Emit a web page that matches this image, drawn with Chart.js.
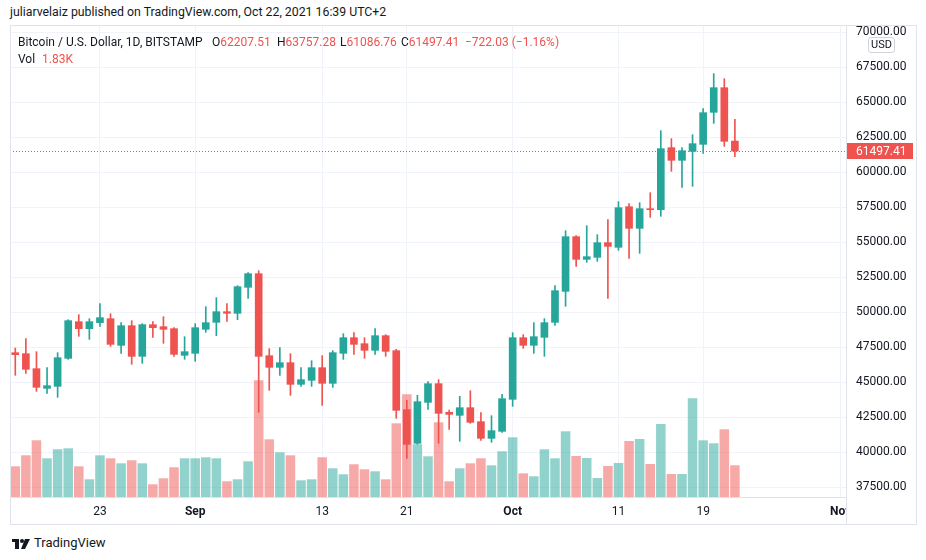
<!DOCTYPE html>
<html>
<head>
<meta charset="utf-8">
<script src="https://cdn.jsdelivr.net/npm/chart.js@4.4.0/dist/chart.umd.min.js"></script>
<style>
body { margin: 0; background: #fff; font-family: Roboto, "Liberation Sans", sans-serif; color: #131722; }
#page { position: relative; width: 926px; height: 560px; overflow: hidden; }
#byline { position: absolute; left: 10px; top: 5px; font-size: 12.3px; white-space: nowrap; }
#frame { position: absolute; left: 10px; top: 25px; width: 905px; height: 498px; border: 1px solid #e0e3eb; box-sizing: content-box; pointer-events: none; }
#wrap { position: absolute; left: 10px; top: 25px; width: 906px; height: 499px; }
.lg { position: absolute; font-size: 12px; white-space: nowrap; line-height: 14px; }
.red { color: #ef5350; }
#usd { position: absolute; left: 868px; top: 37px; width: 25px; height: 14px; border: 1px solid #d1d4dc; border-radius: 3px; background: #fff; font-size: 11px; line-height: 14px; text-align: center; }
#footer { position: absolute; left: 12px; top: 535px; font-size: 13px; white-space: nowrap; }
#footer svg { vertical-align: middle; margin-right: 3px; }
</style>
</head>
<body>
<div id="page">
  <div id="byline">juliarvelaiz published on TradingView.com, Oct 22, 2021 16:39 UTC+2</div>
  <div id="wrap"><canvas id="chart" width="906" height="499"></canvas></div>
  <div id="frame"></div>
  <div class="lg" style="left:18px;top:35px">Bitcoin / U.S. Dollar, 1D, BITSTAMP</div>
  <div class="lg" style="left:212px;top:35px">O<span class="red">62207.51</span></div>
  <div class="lg" style="left:277px;top:35px">H<span class="red">63757.28</span></div>
  <div class="lg" style="left:340px;top:35px">L<span class="red">61086.76</span></div>
  <div class="lg" style="left:401px;top:35px">C<span class="red">61497.41</span></div>
  <div class="lg red" style="left:465px;top:35px">−722.03 (−1.16%)</div>
  <div class="lg" style="left:18px;top:52px">Vol <span class="red" style="margin-left:4px">1.83K</span></div>
  <div id="usd">USD</div>
  <div id="footer"><svg width="19" height="10" viewBox="0 0 19 10"><rect x="0" y="0" width="7" height="3" fill="#131722"/><rect x="3" y="0" width="4" height="10" fill="#131722"/><circle cx="10" cy="2" r="2" fill="#131722"/><polygon points="13,0 18,0 13,10 9,10" fill="#131722"/></svg>TradingView</div>
</div>
<script>
// daily candles, BTC/USD Bitstamp, Aug 15 - Oct 22 2021 (plus empty days up to Nov 1)
const dates = [
  'Aug 15','Aug 16','Aug 17','Aug 18','Aug 19','Aug 20','Aug 21','Aug 22','Aug 23','Aug 24','Aug 25','Aug 26','Aug 27','Aug 28','Aug 29','Aug 30','Aug 31',
  'Sep 1','Sep 2','Sep 3','Sep 4','Sep 5','Sep 6','Sep 7','Sep 8','Sep 9','Sep 10','Sep 11','Sep 12','Sep 13','Sep 14','Sep 15','Sep 16','Sep 17','Sep 18','Sep 19','Sep 20',
  'Sep 21','Sep 22','Sep 23','Sep 24','Sep 25','Sep 26','Sep 27','Sep 28','Sep 29','Sep 30',
  'Oct 1','Oct 2','Oct 3','Oct 4','Oct 5','Oct 6','Oct 7','Oct 8','Oct 9','Oct 10','Oct 11','Oct 12','Oct 13','Oct 14','Oct 15','Oct 16','Oct 17','Oct 18','Oct 19','Oct 20',
  'Oct 21','Oct 22','Oct 23','Oct 24','Oct 25','Oct 26','Oct 27','Oct 28','Oct 29','Oct 30','Oct 31','Nov 1'
];

const opens = [47095,47024,45952,44547,44690,46690,49309,48809,49238,49524,47619,49024,46833,49095,48952,48809,46905,
  47048,48762,49262,50024,49905,51762,52738,46881,46048,46381,44833,45119,46024,44905,47048,48166,47738,47262,48309,47238,
  43024,40619,43547,44881,42833,42619,43166,42166,40976,41476,
  43762,48166,47619,48190,49262,51476,55381,53761,53904,54952,54619,57523,55976,57381,57310,61738,60833,61476,61976,64262,
  66024,62207.51];
const highs = [47428,48095,47166,46024,47095,49452,49810,49524,50595,49881,49238,49381,49167,49309,49667,48881,48238,
  49167,50381,51024,50595,51881,52809,52952,47381,47452,47024,46024,46524,46881,47238,48452,48524,48166,48809,48381,47333,
  43690,44048,45024,45166,43000,43976,44381,42809,42595,44119,
  48524,48381,49238,49524,51881,55809,55450,56166,55523,56595,57881,57738,57809,58523,62953,62381,61738,62667,64524,67024,
  66667,63757.28];
const lows = [45476,45619,44333,44190,43905,46619,48262,48047,48976,47547,47048,46262,46333,48190,47762,46833,46619,
  46476,48547,48309,49333,49452,50976,42833,44405,45476,44048,44690,44690,43333,44619,46619,46976,46690,46976,46833,42405,
  39547,40547,43048,40619,41619,40762,42047,40833,40690,41405,
  43262,47405,47048,46833,49048,50404,53261,53547,53619,50976,54404,53833,54190,56762,56833,60048,58905,58976,61334,63476,
  61833,61086.76];
const closes = [46952,45905,44619,44738,46738,49381,48809,49309,49595,47690,49024,46833,49095,48881,48762,46976,47166,
  48881,49238,50024,49905,51809,52738,46833,46048,46381,44833,45166,46024,44905,47095,48166,47690,47262,48309,47190,42976,
  40547,43595,44881,42762,42690,43166,42119,40976,41524,43809,
  48166,47619,48238,49238,51524,55381,53761,53952,54952,54690,57452,55976,57381,57309,61667,60833,61524,62024,64238,66024,
  62191,61497.41];
const volumes = [1771,2406,3272,2233,2752,2810,1771,1021,2406,2233,1944,2118,1944,733,1079,1714,2233,
  2233,2291,2233,906,1021,2060,6734,3329,2579,2406,964,1021,2291,1656,1310,1887,1598,1483,1021,4252,
  5926,3041,2348,4310,906,1656,1944,2233,1829,2637,
  3445,1367,1194,2752,2233,3791,2366,2250,1096,1789,1962,3231,3347,1904,4212,1327,1327,5695,3272,3098,
  3906,1830];

const priceTicks = [37500,40000,42500,45000,47500,50000,52500,55000,57500,60000,62500,65000,67500,70000];
const tickDates = ['Aug 23','Sep 1','Sep 13','Sep 21','Oct 1','Oct 11','Oct 19','Nov 1'];
const tickTexts = ['23','Sep','13','21','Oct','11','19','Nov'];

const up = '#26a69a';
const down = '#ef5350';
const isUp = closes.map((c, i) => c >= opens[i]);
const candleColors = isUp.map(u => u ? up : down);
const volColors = isUp.map(u => u ? 'rgba(38,166,154,0.5)' : 'rgba(239,83,80,0.5)');

Chart.defaults.font.family = 'Roboto, "Liberation Sans", sans-serif';
Chart.defaults.font.size = 12;
Chart.defaults.color = '#131722';

const priceTag = {
  id: 'priceTag',
  afterDatasetsDraw(chart) {
    const {ctx, chartArea, scales} = chart;
    const y = Math.round(scales.y.getPixelForValue(closes[closes.length - 1])) + 0.5;
    ctx.save();
    ctx.strokeStyle = down;
    ctx.lineWidth = 1;
    ctx.setLineDash([1, 2]);
    ctx.beginPath();
    ctx.moveTo(chartArea.left, y);
    ctx.lineTo(chartArea.right, y);
    ctx.stroke();
    ctx.restore();
  },
  afterDraw(chart) {
    const {ctx, chartArea, scales} = chart;
    const last = closes[closes.length - 1];
    const y = Math.round(scales.y.getPixelForValue(last));
    ctx.save();
    // hide the part of the time labels under the price scale
    ctx.fillStyle = '#fff';
    ctx.fillRect(chartArea.right + 1, chartArea.bottom + 1, 80, 40);
    ctx.strokeStyle = '#e0e3eb';
    ctx.beginPath();
    ctx.moveTo(chartArea.right + 0.5, chartArea.top);
    ctx.lineTo(chartArea.right + 0.5, chart.height);
    ctx.stroke();
    ctx.fillStyle = down;
    ctx.fillRect(chartArea.right + 1, y - 8, 66, 16);
    ctx.fillStyle = '#fff';
    ctx.font = '12px Roboto, "Liberation Sans", sans-serif';
    ctx.textBaseline = 'middle';
    ctx.fillText(last.toFixed(2), chartArea.right + 10, y + 0.5);
    ctx.restore();
  }
};

new Chart(document.getElementById('chart').getContext('2d'), {
  type: 'bar',
  data: {
    labels: dates,
    datasets: [{
      label: 'body',
      data: opens.map((o, i) => [o, closes[i]]),
      backgroundColor: candleColors,
      barThickness: 7,
      grouped: false,
      order: 1,
      yAxisID: 'y'
    }, {
      label: 'wick',
      data: lows.map((l, i) => [l, highs[i]]),
      backgroundColor: candleColors,
      barThickness: 1,
      grouped: false,
      order: 2,
      yAxisID: 'y'
    }, {
      label: 'volume',
      data: volumes,
      backgroundColor: volColors,
      categoryPercentage: 1,
      barPercentage: 0.9,
      grouped: false,
      order: 3,
      yAxisID: 'yv'
    }]
  },
  options: {
    responsive: false,
    animation: false,
    layout: { padding: 0 },
    plugins: {
      legend: { display: false },
      tooltip: { enabled: false }
    },
    scales: {
      x: {
        type: 'category',
        offset: true,
        grid: {
          offset: false,
          drawTicks: false,
          color: ctx => (ctx.tick && ctx.tick.label) ? '#f0f3fa' : 'rgba(0,0,0,0)'
        },
        border: { display: true, color: '#e0e3eb' },
        ticks: {
          autoSkip: false,
          maxRotation: 0,
          padding: 8,
          color: '#131722',
          font: ctx => ({ size: 12, weight: (ctx.tick && isNaN(ctx.tick.label)) ? 'bold' : 'normal' }),
          callback: function (value) {
            const k = tickDates.indexOf(this.getLabelForValue(value));
            return k >= 0 ? tickTexts[k] : '';
          }
        },
        afterFit: s => { s.height = 27; s.paddingLeft = 0; s.paddingRight = 0; }
      },
      y: {
        type: 'linear',
        position: 'right',
        min: 36786,
        max: 70500,
        grid: { color: '#f0f3fa', drawTicks: false },
        border: { display: true, color: '#e0e3eb' },
        afterBuildTicks: s => { s.ticks = priceTicks.map(v => ({ value: v })); },
        ticks: {
          padding: 10,
          color: '#131722',
          callback: v => v.toFixed(2)
        },
        afterFit: s => { s.width = 70; s.paddingTop = 0; s.paddingBottom = 0; }
      },
      yv: {
        type: 'linear',
        display: false,
        min: 0,
        max: 27234
      }
    }
  },
  plugins: [priceTag]
});
</script>
</body>
</html>
